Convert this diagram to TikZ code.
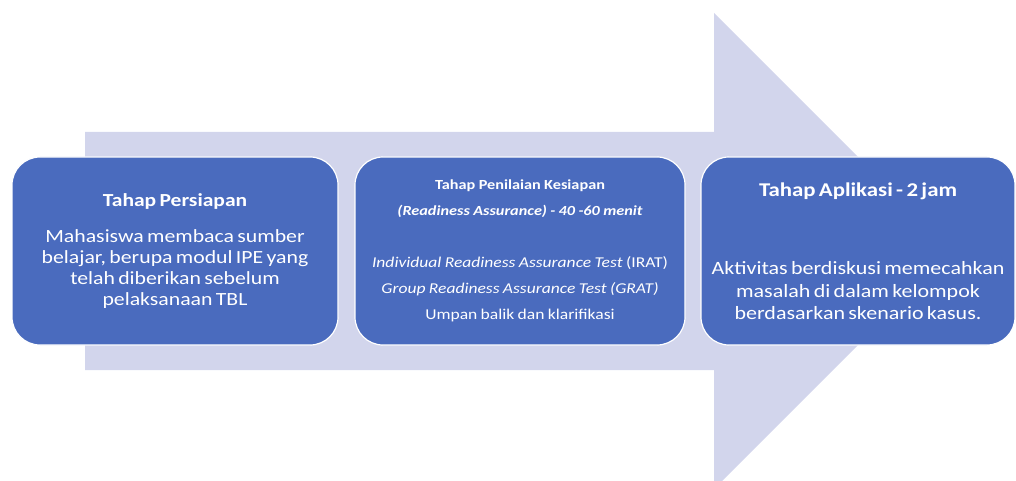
\documentclass[tikz,border=0pt]{standalone}
\usepackage{fontspec}
\setmainfont{Carlito}[FakeStretch=1.17]
\definecolor{stageblue}{HTML}{4A6BBE}
\definecolor{flowlav}{HTML}{D2D5EC}
\begin{document}
\begin{tikzpicture}[x=1pt,y=-1pt,
            stagebox/.style={draw=white, line width=1.2pt, fill=stageblue, rounded corners=28pt, text=white, align=center, minimum height=188pt, inner sep=0pt}
            ]
            \useasboundingbox (0,0) rectangle (1016,481);
            \clip (0,0) rectangle (1016,481);
            \fill[flowlav] (85,132) -- (714,132) -- (714,13) -- (952,251) -- (714,489) -- (714,370) -- (85,370) -- cycle;

            \node[stagebox, minimum width=326pt, text width=310pt] (persiapan) at (175,251) {{\fontsize{18.4}{21}\selectfont\bfseries Tahap Persiapan\par}\vspace{15pt}
              {\fontsize{18.6}{21}\selectfont Mahasiswa membaca sumber\\ belajar, berupa modul IPE yang\\ telah diberikan sebelum\\ pelaksanaan TBL\par}};
            \node[stagebox, minimum width=330pt, text width=316pt] (kesiapan) at (520,251) {{\fontsize{13.9}{26}\selectfont\bfseries Tahap Penilaian Kesiapan\\
              \itshape (Readiness Assurance) - 40 -60 menit\par}\vspace{26pt}
              {\fontsize{15}{26}\selectfont\textit{Individual Readiness Assurance Test} (IRAT)\\
              \textit{Group Readiness Assurance Test (GRAT)}\\
              Umpan balik dan klarifikasi\par}};
            \node[stagebox, minimum width=314pt, text width=310pt] (aplikasi) at (858,251) {\vspace*{4pt}{\fontsize{19.5}{22.5}\selectfont\bfseries Tahap Aplikasi - 2 jam\par}\vspace{52pt}
              {\fontsize{18.8}{22.5}\selectfont Aktivitas berdiskusi memecahkan\\ masalah di dalam kelompok\\ berdasarkan skenario kasus.\par}};
\end{tikzpicture}
\end{document}
